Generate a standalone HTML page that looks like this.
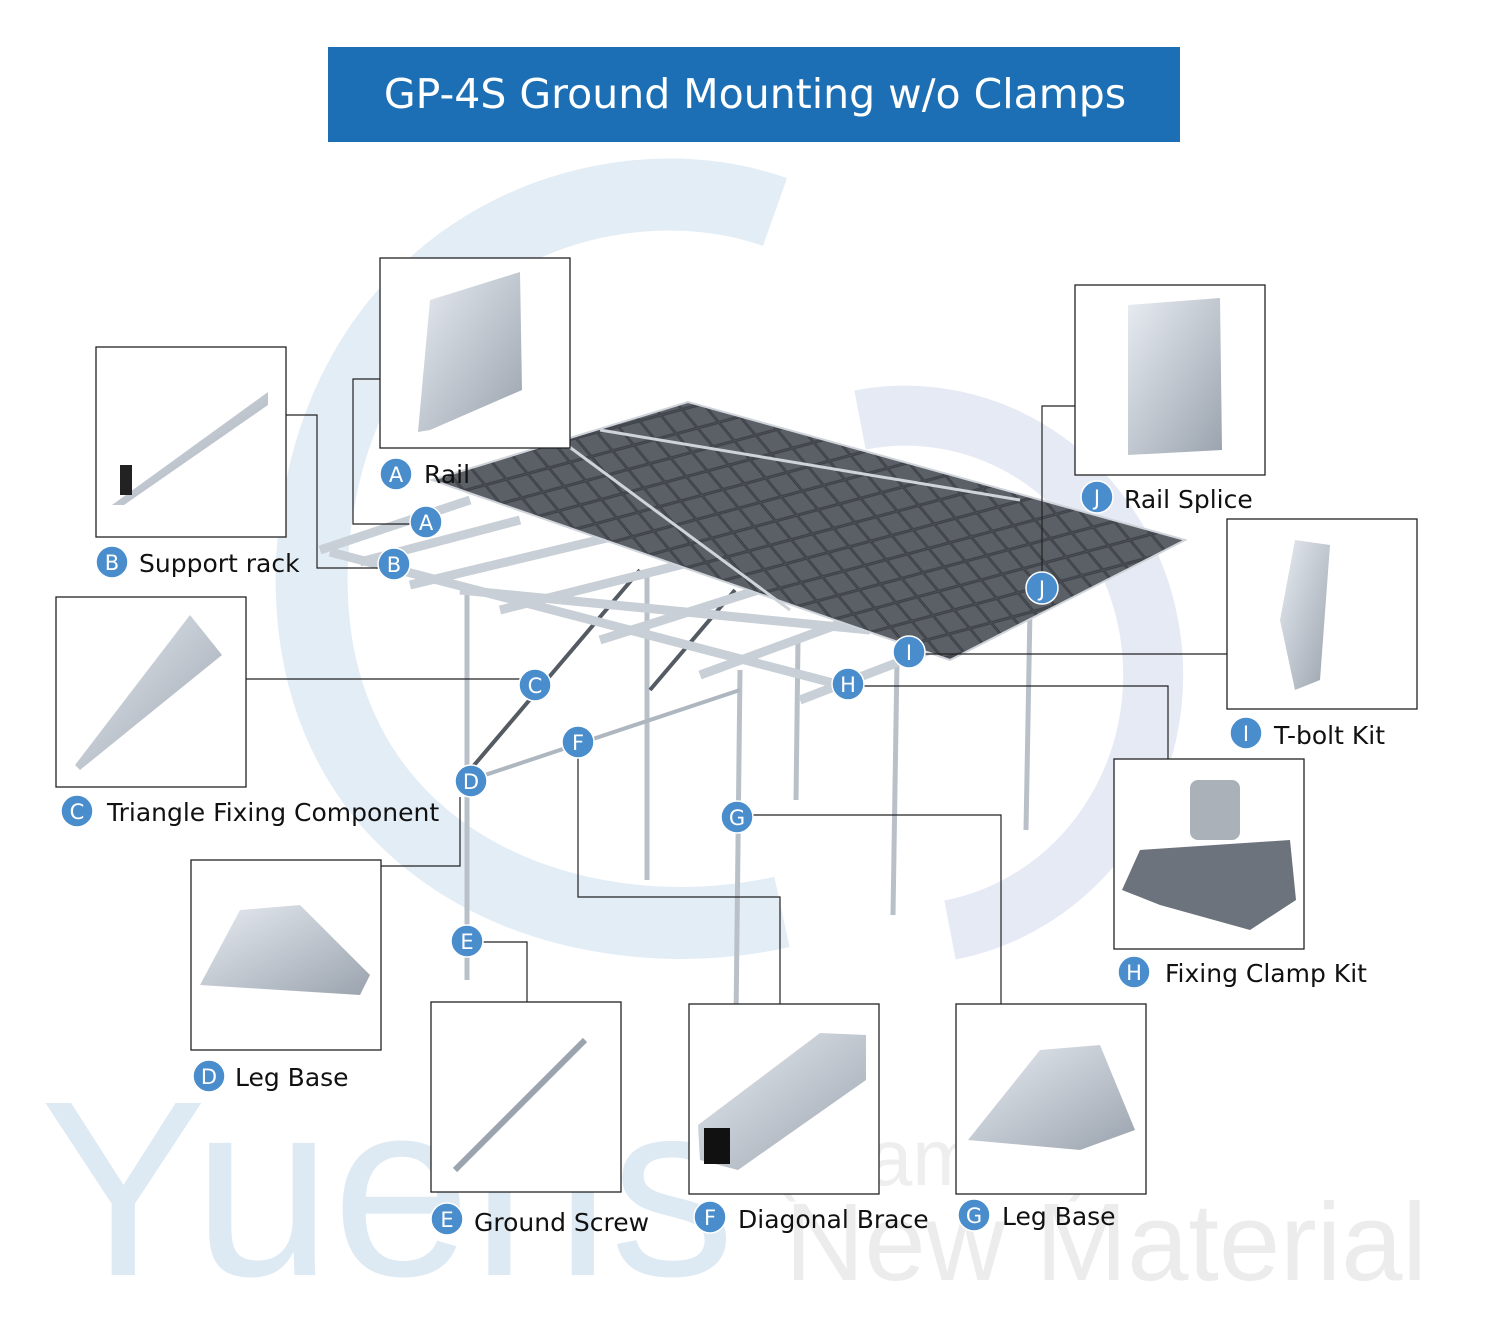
<!DOCTYPE html>
<html><head><meta charset="utf-8">
<style>
html,body{margin:0;padding:0;background:#fff;}
body{width:1500px;height:1323px;position:relative;overflow:hidden;font-family:"DejaVu Sans","Liberation Sans",sans-serif;}
svg{position:absolute;left:0;top:0;}
</style></head><body>
<svg width="1500" height="1323" viewBox="0 0 1500 1323" xmlns="http://www.w3.org/2000/svg">
<defs>
<linearGradient id="al" x1="0" y1="0" x2="1" y2="1"><stop offset="0" stop-color="#e8ecf2"/><stop offset="1" stop-color="#9aa3ae"/></linearGradient>
<pattern id="cells" width="22" height="22" patternUnits="userSpaceOnUse" patternTransform="rotate(-15) skewX(25)">
<rect width="22" height="22" fill="#4a4e55"/><rect x="1" y="1" width="20" height="20" fill="#5b5f66" stroke="#3c4046" stroke-width="1"/>
</pattern>
</defs>
<!-- watermark -->
<path d="M775,212 C600,150 330,250 312,560 C300,850 560,960 782,912" fill="none" stroke="#e3edf6" stroke-width="72"/>
<path d="M860,420 A220,230 0 1 1 950,930" fill="none" stroke="#e6eaf5" stroke-width="60"/>
<text x="40" y="1275" font-family="Liberation Sans,sans-serif" font-size="250" fill="#dde9f3">Yuens</text>
<text x="770" y="1185" font-family="Liberation Sans,sans-serif" font-size="80" fill="#eeeeee">(Xiamen)</text>
<text x="785" y="1280" font-family="Liberation Sans,sans-serif" font-size="110" fill="#ececec">New Material</text>
<!-- title -->
<rect x="328" y="47" width="852" height="95" fill="#1c6fb4"/>
<text x="755" y="108" text-anchor="middle" font-size="41" fill="#fff">GP-4S Ground Mounting w/o Clamps</text>
<!-- legs & screws -->
<g stroke="#b9c0c8" stroke-width="5">
<line x1="467" y1="590" x2="467" y2="980"/><line x1="647" y1="570" x2="647" y2="880"/>
<line x1="740" y1="670" x2="736" y2="1020"/><line x1="798" y1="640" x2="796" y2="800"/>
<line x1="897" y1="660" x2="893" y2="915"/><line x1="1030" y1="610" x2="1026" y2="830"/>
</g>
<g stroke="#555b63" stroke-width="4"><line x1="470" y1="770" x2="640" y2="570"/><line x1="650" y1="690" x2="735" y2="590"/></g>
<g stroke="#aeb6bf" stroke-width="4"><line x1="470" y1="780" x2="740" y2="690"/></g>
<!-- rails and racks -->
<g stroke="#c8cfd6" stroke-width="9">
<line x1="320" y1="550" x2="470" y2="500"/><line x1="360" y1="562" x2="520" y2="520"/>
<line x1="410" y1="585" x2="640" y2="530"/><line x1="500" y1="610" x2="700" y2="560"/>
<line x1="600" y1="640" x2="790" y2="580"/><line x1="700" y1="675" x2="850" y2="620"/>
<line x1="800" y1="700" x2="930" y2="650"/>
<line x1="330" y1="552" x2="860" y2="690"/>
<line x1="460" y1="590" x2="870" y2="630"/>
</g>
<!-- panels -->
<polygon points="432,480 688,402 1185,540 950,660" fill="url(#cells)" stroke="#cfd4da" stroke-width="2"/>
<g stroke="#cfd4da" stroke-width="3"><line x1="600" y1="430" x2="1020" y2="500"/><line x1="560" y1="440" x2="790" y2="610"/></g>
<!-- boxes -->
<g fill="#fff" stroke="#222" stroke-width="1.3">
<rect x="380" y="258" width="190" height="190"/><rect x="96" y="347" width="190" height="190"/>
<rect x="56" y="597" width="190" height="190"/><rect x="191" y="860" width="190" height="190"/>
<rect x="431" y="1002" width="190" height="190"/><rect x="689" y="1004" width="190" height="190"/>
<rect x="956" y="1004" width="190" height="190"/><rect x="1114" y="759" width="190" height="190"/>
<rect x="1227" y="519" width="190" height="190"/><rect x="1075" y="285" width="190" height="190"/>
</g>
<!-- box images -->
<polygon points="430,300 520,272 522,390 430,430 418,432" fill="url(#al)"/>
<polygon points="112,505 268,392 268,405 124,505" fill="url(#al)"/><rect x="120" y="465" width="12" height="30" fill="#222"/>
<polygon points="75,765 190,615 222,655 80,770" fill="url(#al)"/>
<polygon points="200,985 240,910 300,905 370,975 360,995" fill="url(#al)"/>
<line x1="455" y1="1170" x2="585" y2="1040" stroke="#9aa3ae" stroke-width="6"/>
<polygon points="698,1125 820,1033 866,1035 866,1080 738,1170 700,1160" fill="url(#al)"/><rect x="704" y="1128" width="26" height="36" fill="#111"/>
<polygon points="968,1140 1040,1050 1100,1045 1135,1130 1080,1150" fill="url(#al)"/>
<polygon points="1128,305 1220,298 1222,450 1128,455" fill="url(#al)"/>
<polygon points="1295,540 1330,545 1320,680 1295,690 1280,620" fill="url(#al)"/>
<polygon points="1122,890 1140,850 1290,840 1296,900 1250,930 1160,905" fill="#6c737c"/><rect x="1190" y="780" width="50" height="60" rx="8" fill="#aab1b9"/>
<!-- connectors -->
<g fill="none" stroke="#222" stroke-width="1.2">
<polyline points="380,379 353,379 353,524 411,524"/>
<polyline points="286,415 317,415 317,568 379,568"/>
<polyline points="246,679 520,679"/>
<polyline points="381,866 460,866 460,797"/>
<polyline points="483,942 527,942 527,1002"/>
<polyline points="578,757 578,897 780,897 780,1004"/>
<polyline points="752,815 1001,815 1001,1004"/>
<polyline points="863,686 1168,686 1168,759"/>
<polyline points="924,654 1227,654"/>
<polyline points="1042,573 1042,406 1075,406"/>
</g>
<!-- circles -->
<g fill="#4a8dcc" stroke="#fff" stroke-width="1.5">
<circle cx="426" cy="522" r="16"/><circle cx="394" cy="564" r="16"/><circle cx="535" cy="685" r="16"/>
<circle cx="471" cy="781" r="16"/><circle cx="467" cy="941" r="16"/><circle cx="578" cy="742" r="16"/>
<circle cx="737" cy="817" r="16"/><circle cx="848" cy="684" r="16"/><circle cx="909" cy="652" r="16"/>
<circle cx="1042" cy="588" r="16"/>
<circle cx="396" cy="474" r="16"/><circle cx="112" cy="562" r="16"/><circle cx="77" cy="811" r="16"/>
<circle cx="209" cy="1076" r="16"/><circle cx="447" cy="1219" r="16"/><circle cx="710" cy="1217" r="16"/>
<circle cx="974" cy="1215" r="16"/><circle cx="1134" cy="972" r="16"/><circle cx="1246" cy="733" r="16"/>
<circle cx="1097" cy="497" r="16"/>
</g>
<g fill="#fff" font-size="21" text-anchor="middle">
<text x="426" y="530">A</text><text x="394" y="572">B</text><text x="535" y="693">C</text>
<text x="471" y="789">D</text><text x="467" y="949">E</text><text x="578" y="750">F</text>
<text x="737" y="825">G</text><text x="848" y="692">H</text><text x="909" y="660">I</text>
<text x="1042" y="596">J</text>
<text x="396" y="482">A</text><text x="112" y="570">B</text><text x="77" y="819">C</text>
<text x="209" y="1084">D</text><text x="447" y="1227">E</text><text x="710" y="1225">F</text>
<text x="974" y="1223">G</text><text x="1134" y="980">H</text><text x="1246" y="741">I</text>
<text x="1097" y="505">J</text>
</g>
<g fill="#111" font-size="25">
<text x="424" y="483">Rail</text><text x="139" y="572">Support rack</text>
<text x="107" y="821">Triangle Fixing Component</text><text x="235" y="1086">Leg Base</text>
<text x="474" y="1231">Ground Screw</text><text x="738" y="1228">Diagonal Brace</text>
<text x="1002" y="1225">Leg Base</text><text x="1165" y="982">Fixing Clamp Kit</text>
<text x="1274" y="744">T-bolt Kit</text><text x="1124" y="508">Rail Splice</text>
</g>
</svg>
</body></html>
